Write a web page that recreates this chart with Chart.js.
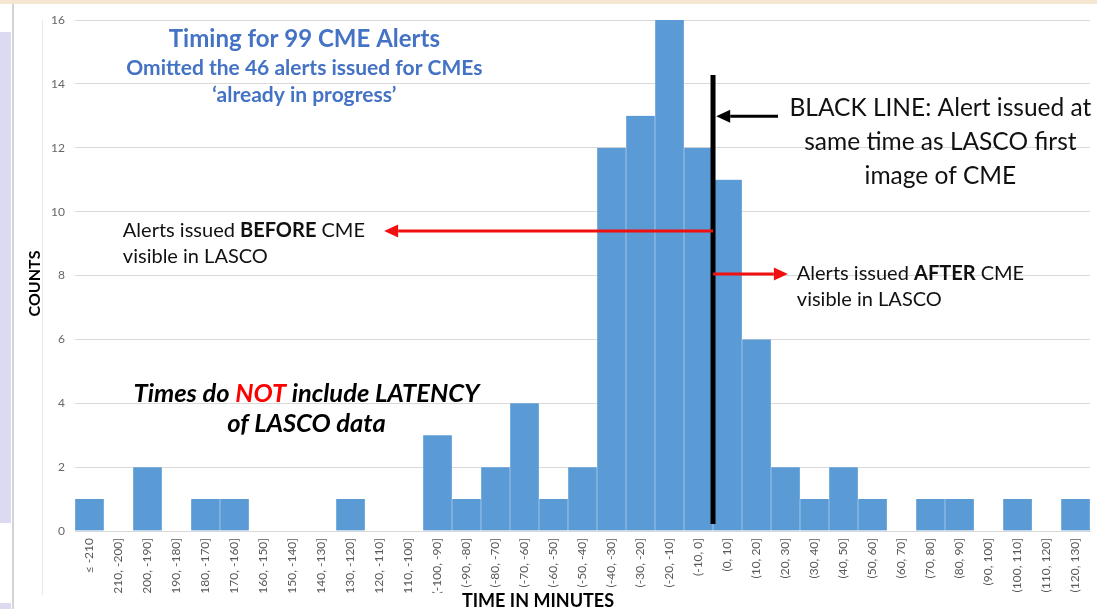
<!DOCTYPE html>
<html>
<head>
<meta charset="utf-8">
<title>Timing for 99 CME Alerts</title>
<script src="https://cdn.jsdelivr.net/npm/chart.js@4.4.1/dist/chart.umd.min.js"></script>
<style>
  html, body { margin: 0; padding: 0; background: #fff; }
  body { width: 1097px; height: 609px; position: relative; overflow: hidden; font-family: Lato, "Open Sans", sans-serif; }
  #topband { position: absolute; left: 0; top: 0; width: 1097px; height: 4px; background: #f5e6d2; }
  #side1 { position: absolute; left: 0; top: 32px; width: 11px; height: 491px; background: #dcdaf0; }
  #side2 { position: absolute; left: 0; top: 603px; width: 11px; height: 6px; background: #dcdaf0; }
  #frame { position: absolute; left: 12px; top: 4px; width: 2px; height: 605px; background: #d4d4d4; }
  #inner { position: absolute; left: 42px; top: 20px; width: 1px; height: 575px; background: #e8e8e8; }
  #wrap { position: absolute; left: 14px; top: 0; width: 1083px; height: 593px; }
  #xtitle { position: absolute; left: 388px; width: 300px; top: 591px; text-align: center;
            font: bold 18px Lato, sans-serif; line-height: 19px; color: #000; }
</style>
</head>
<body>
<div id="topband"></div>
<div id="side1"></div>
<div id="side2"></div>
<div id="frame"></div>
<div id="inner"></div>
<div id="wrap"><canvas id="cmeChart"></canvas></div>
<div id="xtitle">TIME IN MINUTES</div>

<script>
// bins (minutes relative to first LASCO image)
const binLabels = [
    "≤ -210", "(-210, -200]", "(-200, -190]", "(-190, -180]", "(-180, -170]", "(-170, -160]",
    "(-160, -150]", "(-150, -140]", "(-140, -130]", "(-130, -120]", "(-120, -110]", "(-110, -100]",
    "(-100, -90]", "(-90, -80]", "(-80, -70]", "(-70, -60]", "(-60, -50]", "(-50, -40]",
    "(-40, -30]", "(-30, -20]", "(-20, -10]", "(-10, 0]", "(0, 10]", "(10, 20]",
    "(20, 30]", "(30, 40]", "(40, 50]", "(50, 60]", "(60, 70]", "(70, 80]",
    "(80, 90]", "(90, 100]", "(100, 110]", "(110, 120]", "(120, 130]"
]
const counts = [
    1, 0, 2, 0, 1, 1,
    0, 0, 0, 1, 0, 0,
    3, 1, 2, 4, 1, 2,
    12, 13, 16, 12, 11, 6,
    2, 1, 2, 1, 0, 1,
    1, 0, 1, 0, 1
]
const yMin = 0
const yMax = 16
const yStep = 2

// black line sits on the edge between (-10, 0] and (0, 10]
const zeroEdge = binLabels.indexOf("(-10, 0]") + 0.5

const FONT = "Lato, 'Open Sans', sans-serif"
const BLUE = "#4472c4"

// annotation text, placed in data units (category index, count)
const notes = [
    { x: 7.41, y: 15.40, align: "center", runs: [["bold 24px", "Timing for 99 CME Alerts", BLUE]] },
    { x: 7.41, y: 14.50, align: "center", runs: [["bold 21px", "Omitted the 46 alerts issued for CMEs", BLUE]] },
    { x: 7.41, y: 13.65, align: "center", runs: [["bold 21px", "\u2018already in progress\u2019", BLUE]] },
    { x: 29.34, y: 13.24, align: "center", runs: [["24.5px", "BLACK LINE: Alert issued at", "#111"]] },
    { x: 29.34, y: 12.18, align: "center", runs: [["24.5px", "same time as LASCO first", "#111"]] },
    { x: 29.34, y: 11.11, align: "center", runs: [["24.5px", "image of CME", "#111"]] },
    { x: 1.15, y: 9.42, align: "left", runs: [["20px", "Alerts issued ", "#111"], ["bold 20px", "BEFORE", "#111"], ["20px", " CME", "#111"]] },
    { x: 1.15, y: 8.58, align: "left", runs: [["20px", "visible in LASCO", "#111"]] },
    { x: 24.39, y: 8.06, align: "left", runs: [["20px", "Alerts issued ", "#111"], ["bold 20px", "AFTER", "#111"], ["20px", " CME", "#111"]] },
    { x: 24.39, y: 7.24, align: "left", runs: [["20px", "visible in LASCO", "#111"]] },
    { x: 7.48, y: 4.29, align: "center", runs: [["italic bold 25.5px", "Times do ", "#000"], ["italic bold 25.5px", "NOT", "#ff0000"], ["italic bold 25.5px", " include LATENCY", "#000"]] },
    { x: 7.48, y: 3.35, align: "center", runs: [["italic bold 25.5px", "of LASCO data", "#000"]] }
]

// arrows: [fromX, toX, y, color]
const arrows = [
    [23.74, 21.61, 12.99, "#000000"],
    [zeroEdge, 10.16, 9.39, "#f01010"],
    [zeroEdge, 24.08, 8.05, "#f01010"]
]
const lineTop = 14.28
const lineBottom = 0.22
const yTitleAt = 7.75   // vertical centre of the COUNTS label, in counts

function drawRuns(ctx, note, px, py) {
    let total = 0
    note.runs.forEach(([f, t]) => {
        ctx.font = f + " " + FONT
        total += ctx.measureText(t).width
    })
    let cx = note.align === "center" ? px - total / 2 : px
    note.runs.forEach(([f, t, c]) => {
        ctx.font = f + " " + FONT
        ctx.fillStyle = c
        ctx.fillText(t, cx, py)
        cx += ctx.measureText(t).width
    })
}

function drawArrow(ctx, x1, x2, yy, color) {
    const dir = x2 > x1 ? 1 : -1
    const head = 14
    ctx.strokeStyle = color
    ctx.fillStyle = color
    ctx.lineWidth = 3
    ctx.beginPath()
    ctx.moveTo(x1, yy)
    ctx.lineTo(x2 - dir * head, yy)
    ctx.stroke()
    ctx.beginPath()
    ctx.moveTo(x2, yy)
    ctx.lineTo(x2 - dir * head, yy - 6.5)
    ctx.lineTo(x2 - dir * head, yy + 6.5)
    ctx.closePath()
    ctx.fill()
}

const overlay = {
    id: "overlay",
    afterDatasetsDraw(chart) {
        const { ctx, scales: { x, y } } = chart
        ctx.save()

        // vertical black line at 0 minutes
        const lx = x.getPixelForValue(zeroEdge)
        ctx.strokeStyle = "#000"
        ctx.lineWidth = 5
        ctx.beginPath()
        ctx.moveTo(lx, y.getPixelForValue(lineTop))
        ctx.lineTo(lx, y.getPixelForValue(lineBottom))
        ctx.stroke()

        arrows.forEach(([a, b, v, c]) => {
            drawArrow(ctx, x.getPixelForValue(a), x.getPixelForValue(b), y.getPixelForValue(v), c)
        })

        ctx.textBaseline = "middle"
        ctx.textAlign = "left"
        notes.forEach((n) => drawRuns(ctx, n, x.getPixelForValue(n.x), y.getPixelForValue(n.y)))

        // y axis title
        ctx.translate(y.left + 21, y.getPixelForValue(yTitleAt))
        ctx.rotate(-Math.PI / 2)
        ctx.textAlign = "center"
        ctx.font = "bold 16px " + FONT
        ctx.fillStyle = "#000"
        ctx.fillText("COUNTS", 0, 0)
        ctx.restore()
    },
}

document.addEventListener("DOMContentLoaded", () => {
    new Chart(document.getElementById("cmeChart"), {
        type: "bar",
        data: {
            labels: binLabels,
            datasets: [
                {
                    label: "Counts",
                    data: counts,
                    backgroundColor: "#5b9bd5",
                    borderColor: "rgba(255, 255, 255, 0.85)",
                    borderWidth: { top: 0, bottom: 0, left: 0.5, right: 0.5 },
                    borderSkipped: false,
                    barPercentage: 1,
                    categoryPercentage: 1,
                },
            ],
        },
        options: {
            responsive: true,
            maintainAspectRatio: false,
            animation: false,
            layout: {
                padding: { top: 20, right: 4, bottom: 0, left: 0 },
            },
            plugins: {
                legend: { display: false },
                tooltip: { enabled: false },
            },
            scales: {
                x: {
                    grid: { display: false, drawTicks: false },
                    border: { color: "#d9d9d9" },
                    ticks: {
                        autoSkip: false,
                        minRotation: 90,
                        maxRotation: 90,
                        padding: 7,
                        color: "#595959",
                        font: { family: FONT, size: 12 },
                    },
                    afterFit: (s) => { s.height = 62 },
                },
                y: {
                    min: yMin,
                    max: yMax,
                    grid: { color: "#d9d9d9", drawTicks: false },
                    border: { display: false },
                    ticks: {
                        stepSize: yStep,
                        padding: 10,
                        color: "#666",
                        font: { family: FONT, size: 12 },
                    },
                    afterFit: (s) => {
                        s.width = 61
                        s.paddingTop = 7
                        s.paddingBottom = 7
                    },
                },
            },
        },
        plugins: [overlay],
    })
})
</script>
</body>
</html>
